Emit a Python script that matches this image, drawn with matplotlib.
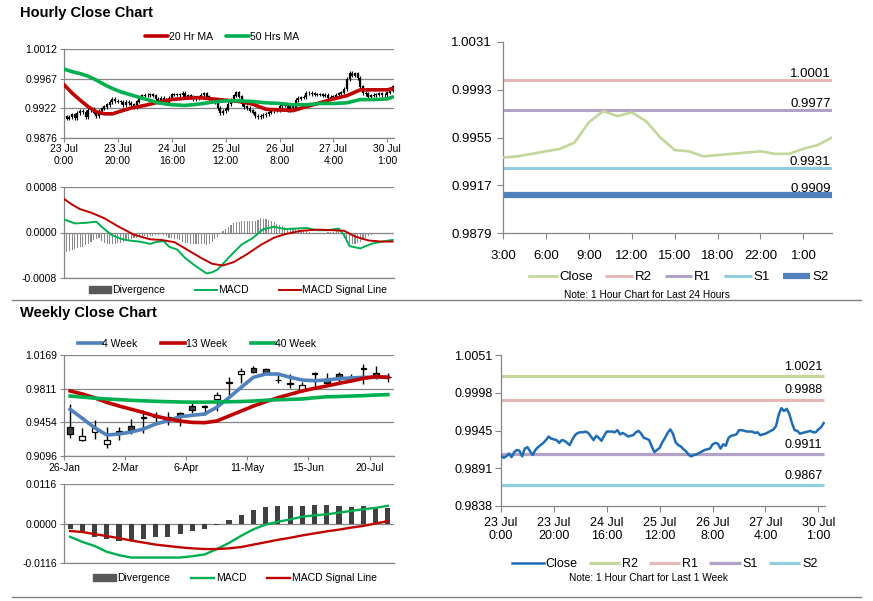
import numpy as np
import matplotlib
matplotlib.use('Agg')
import matplotlib.pyplot as plt
from matplotlib.lines import Line2D
from matplotlib.patches import Patch, Rectangle

plt.rcParams['font.family'] = ['Liberation Sans', 'DejaVu Sans']

# ---------------- DATA ----------------
hourly_close = [
    0.9909, 0.9906, 0.9908, 0.9912, 0.9907, 0.9914, 0.9917, 0.9916, 0.9908, 0.9919,
    0.9921, 0.9915, 0.9910, 0.9917, 0.9921, 0.9924, 0.9927, 0.9931, 0.9936, 0.9933,
    0.9932, 0.9931, 0.9927, 0.9931, 0.9930, 0.9927, 0.9924, 0.9932, 0.9938, 0.9941,
    0.9942, 0.9942, 0.9943, 0.9941, 0.9936, 0.9931, 0.9937, 0.9934, 0.9930, 0.9937,
    0.9943, 0.9943, 0.9943, 0.9942, 0.9945, 0.9939, 0.9941, 0.9939, 0.9936, 0.9937,
    0.9938, 0.9942, 0.9944, 0.9940, 0.9934, 0.9933, 0.9931, 0.9922, 0.9914, 0.9917,
    0.9920, 0.9928, 0.9934, 0.9941, 0.9946, 0.9940, 0.9928, 0.9924, 0.9922, 0.9918,
    0.9915, 0.9910, 0.9908, 0.9910, 0.9911, 0.9913, 0.9915, 0.9917, 0.9918, 0.9919,
    0.9925, 0.9927, 0.9926, 0.9919, 0.9925, 0.9923, 0.9934, 0.9937, 0.9938, 0.9939,
    0.9945, 0.9945, 0.9944, 0.9943, 0.9943, 0.9943, 0.9941, 0.9942, 0.9938, 0.9939,
    0.9940, 0.9942, 0.9944, 0.9946, 0.9951, 0.9967, 0.9976, 0.9972, 0.9975, 0.9968,
    0.9955, 0.9945, 0.9944, 0.9940, 0.9941, 0.9942, 0.9943, 0.9944, 0.9942, 0.9942,
    0.9946, 0.9949, 0.9955]

hour_tick_pos = [0, 20, 40, 60, 80, 100, 120]
hour_tick_labels = ['23 Jul\n0:00', '23 Jul\n20:00', '24 Jul\n16:00', '25 Jul\n12:00',
                    '26 Jul\n8:00', '27 Jul\n4:00', '30 Jul\n1:00']

ma_hours = [0, 3, 6, 9, 12, 15, 18, 21, 25, 30, 35, 40, 45, 50, 55, 60, 65, 70, 75,
            80, 85, 90, 95, 100, 105, 110, 115, 120, 122]
ma20 = [0.9958, 0.9945, 0.9934, 0.9924, 0.9916, 0.9913, 0.9913, 0.9917, 0.9922, 0.9926,
        0.9931, 0.9935, 0.9937, 0.9938, 0.9936, 0.9934, 0.9932, 0.9928, 0.9920, 0.9919,
        0.9918, 0.9924, 0.9930, 0.9936, 0.9941, 0.9950, 0.9950, 0.9950, 0.9952]
ma50 = [0.9982, 0.9978, 0.9975, 0.9971, 0.9965, 0.9958, 0.9952, 0.9947, 0.9942, 0.9936,
        0.9930, 0.9927, 0.9926, 0.9928, 0.9931, 0.9933, 0.9933, 0.9932, 0.9930, 0.9929,
        0.9927, 0.9927, 0.9929, 0.9929, 0.9930, 0.9935, 0.9935, 0.9936, 0.9939]

macd_hours = [0, 4, 8, 12, 14, 16, 18, 21, 24, 28, 32, 34, 37, 39, 42, 45, 48, 51, 53,
              55, 57, 60, 63, 66, 70, 74, 78, 82, 86, 90, 94, 98, 102, 104, 106, 110,
              114, 118, 122]
macd_h = [0.00023, 0.00016, 0.00017, 0.00019, 0.00010, 0.00002, -0.00005, -0.00011,
          -0.00014, -0.00016, -0.00020, -0.00017, -0.00015, -0.00025, -0.00030, -0.00045,
          -0.00056, -0.00066, -0.00072, -0.00070, -0.00065, -0.00050, -0.00035, -0.00021,
          -0.00010, 0.00006, 0.00010, 0.00006, 0.00007, 0.00008, 0.00004, 0.00004,
          0.00007, -0.00005, -0.00024, -0.00028, -0.00020, -0.00016, -0.00013]
signal_hours = [0, 3, 6, 10, 15, 20, 26, 32, 36, 41, 46, 51, 55, 59, 63, 68, 73, 78,
                82, 88, 94, 100, 104, 108, 113, 118, 122]
signal_h = [0.00059, 0.00049, 0.00041, 0.00035, 0.00025, 0.00011, -0.00004, -0.00012,
            -0.00013, -0.00017, -0.00031, -0.00045, -0.00055, -0.00058, -0.00052,
            -0.00038, -0.00022, -0.00009, -0.00003, 0.00003, 0.00005, 0.00004, 0.00003,
            -0.00007, -0.00014, -0.00016, -0.00016]
div_h = [-0.00036, -0.00035, -0.00033, -0.00031, -0.00029, -0.00028, -0.00026, -0.00025,
         -0.00022, -0.00020, -0.00017, -0.00014, -0.00011,
         -0.00010, -0.00015, -0.00019, -0.00020, -0.00021,
         -0.00021, -0.00020, -0.00019, -0.00018, -0.00017, -0.00015, -0.00013, -0.00011,
         -0.00010, -0.00009, -0.00008, -0.00007, -0.00007, -0.00008, -0.00007, -0.00007,
         -0.00005, -0.00004,
         -0.00003, -0.00005, -0.00007,
         -0.00009, -0.00010, -0.00011, -0.00012, -0.00014, -0.00016,
         -0.00018, -0.00019, -0.00020, -0.00020, -0.00021, -0.00020, -0.00020, -0.00021,
         -0.00022, -0.00020, -0.00016, -0.00012, -0.00008, -0.00003,
         0.00003, 0.00006, 0.00010, 0.00014,
         0.00017, 0.00018, 0.00019, 0.00020, 0.00021, 0.00021, 0.00020, 0.00020, 0.00020,
         0.00022,
         0.00025, 0.00024, 0.00024, 0.00022, 0.00020, 0.00018,
         0.00015, 0.00013, 0.00011, 0.00009, 0.00008, 0.00007,
         0.00007, 0.00006, 0.00006, 0.00005, 0.00004, 0.00002,
         0.00001, 0.0, -0.00001, -0.00001, -0.00001, 0.0, 0.0, 0.00001, 0.00001,
         0.00001, 0.00002, 0.00003, 0.00001,
         -0.00010, -0.00016, -0.00020, -0.00021, -0.00020, -0.00019, -0.00017, -0.00014,
         -0.00010, -0.00007, -0.00005, -0.00003, -0.00002, -0.00001, 0.0,
         0.0, -0.00001, -0.00002, -0.00003]

hourly_ticks = [0.98765, 0.99218, 0.99672, 1.00125]
hourly_tick_labels = ['0.9876', '0.9922', '0.9967', '1.0012']
macd_h_ticks = [-0.0008, 0.0, 0.0008]
macd_h_labels = ['-0.0008', '0.0000', '0.0008']

# Last 24 hours chart
day_tick_labels = ['3:00', '6:00', '9:00', '12:00', '15:00', '18:00', '22:00', '1:00']
day_levels = [1.0001, 0.9977, 0.9931, 0.9909]
day_level_names = ['R2', 'R1', 'S1', 'S2']
day_level_labels = ['1.0001', '0.9977', '0.9931', '0.9909']
day_ticks = [0.9879, 0.9917, 0.9955, 0.9993, 1.0031]
day_tick_labels_y = ['0.9879', '0.9917', '0.9955', '0.9993', '1.0031']

# Week chart (hourly)
wk1_levels = [1.0021, 0.9988, 0.9911, 0.9867]
wk1_level_names = ['R2', 'R1', 'S1', 'S2']
wk1_level_labels = ['1.0021', '0.9988', '0.9911', '0.9867']
wk1_ticks = [0.9838, 0.989125, 0.99445, 0.999775, 1.0051]
wk1_tick_labels = ['0.9838', '0.9891', '0.9945', '0.9998', '1.0051']

# Weekly candles
week_labels = ['26-Jan', '2-Mar', '6-Apr', '11-May', '15-Jun', '20-Jul']
week_label_pos = [0, 5, 10, 15, 20, 25]
week_open = [0.9409, 0.9263, 0.9355, 0.9220, 0.9348, 0.9416, 0.9512, 0.9510, 0.9503,
             0.9556, 0.9627, 0.9622, 0.9702, 0.9873, 0.9964, 1.0027, 1.0017, 0.9905,
             0.9870, 0.9797, 0.9976, 0.9910, 0.9964, 0.9934, 1.0029, 0.9981, 0.9930]
week_high = [0.9647, 0.9398, 0.9476, 0.9409, 0.9409, 0.9494, 0.9583, 0.9567, 0.9560,
             0.9567, 0.9673, 0.9638, 0.9779, 0.9939, 1.0027, 1.0052, 1.0034, 0.9957,
             0.9967, 0.9886, 0.9985, 0.9981, 0.9992, 0.9967, 1.0070, 1.0052, 0.9981]
week_low = [0.9291, 0.9256, 0.9281, 0.9185, 0.9266, 0.9327, 0.9345, 0.9461, 0.9425,
            0.9415, 0.9549, 0.9532, 0.9574, 0.9744, 0.9868, 0.9981, 0.9967, 0.9875,
            0.9815, 0.9779, 0.9815, 0.9857, 0.9857, 0.9886, 0.9857, 0.9910, 0.9886]
week_close = [0.9327, 0.9309, 0.9391, 0.9266, 0.9362, 0.9373, 0.9505, 0.9516, 0.9509,
              0.9532, 0.9585, 0.9618, 0.9744, 0.9877, 0.9999, 0.9992, 0.9978, 0.9901,
              0.9866, 0.9850, 0.9972, 0.9868, 0.9910, 0.9930, 1.0025, 0.9946, 0.9934]
wk_ma4 = [0.9592, 0.9496, 0.9397, 0.9319, 0.9330, 0.9351, 0.9383, 0.9436, 0.9471,
          0.9514, 0.9528, 0.9542, 0.9613, 0.9716, 0.9826, 0.9932, 0.9967, 0.9967,
          0.9932, 0.9903, 0.9896, 0.9903, 0.9918, 0.9925, 0.9932, 0.9932, 0.9932]
wk_ma13 = [0.9787, 0.9755, 0.9714, 0.9666, 0.9627, 0.9593, 0.9558, 0.9520, 0.9490,
           0.9467, 0.9453, 0.9450, 0.9468, 0.9521, 0.9574, 0.9627, 0.9673, 0.9716,
           0.9751, 0.9787, 0.9815, 0.9840, 0.9868, 0.9893, 0.9921, 0.9939, 0.9932]
wk_ma40 = [0.9733, 0.9722, 0.9711, 0.9702, 0.9695, 0.9688, 0.9682, 0.9677, 0.9673,
           0.9670, 0.9668, 0.9668, 0.9670, 0.9672, 0.9675, 0.9680, 0.9688, 0.9694,
           0.9698, 0.9702, 0.9715, 0.9725, 0.9728, 0.9733, 0.9737, 0.9744, 0.9748]
wk_ticks = [0.9096, 0.94537, 0.98113, 1.0169]
wk_tick_labels = ['0.9096', '0.9454', '0.9811', '1.0169']

wk_div = [-0.0017, -0.0026, -0.0039, -0.0046, -0.0052, -0.0047, -0.0046, -0.0041, -0.0039,
          -0.0031, -0.0022, -0.0017, -0.0005, 0.0010, 0.0026, 0.0039, 0.0047, 0.0052,
          0.0052, 0.0052, 0.0055, 0.0053, 0.0051, 0.0049, 0.0051, 0.0047, 0.0046]
wk_macd = [-0.0039, -0.0054, -0.0066, -0.0083, -0.0093, -0.0100, -0.0100, -0.0100, -0.0100,
           -0.0100, -0.0096, -0.0091, -0.0075, -0.0057, -0.0036, -0.0017, -0.0003, 0.0005,
           0.0012, 0.0020, 0.0024, 0.0027, 0.0032, 0.0037, 0.0042, 0.0046, 0.0052]
wk_signal = [-0.0022, -0.0025, -0.0031, -0.0037, -0.0043, -0.0050, -0.0056, -0.0062, -0.0066,
             -0.0070, -0.0073, -0.0075, -0.0075, -0.0073, -0.0069, -0.0062, -0.0055, -0.0048,
             -0.0042, -0.0035, -0.0029, -0.0023, -0.0018, -0.0012, -0.0007, 0.0000, 0.0007]
wk_macd_ticks = [-0.0116, 0.0, 0.0116]
wk_macd_labels = ['-0.0116', '0.0000', '0.0116']

# ---------------- STYLE ----------------
GRAY = '#868686'
RED = '#c00000'
GREEN = '#00b050'
BLUE = '#4f81bd'
C_OLIVE = '#c3d69b'
C_PINK = '#e6b9b8'
C_LAV = '#b3a2c7'
C_LBLUE = '#93cddd'
C_DBLUE = '#1f6db5'

W, H = 873, 601
fig = plt.figure(figsize=(W / 100, H / 100), dpi=100)


def axrect(l, t, r, b):
    return fig.add_axes([l / W, 1 - b / H, (r - l) / W, (b - t) / H])


def style(ax, grid, size, xtick_len=3, ytick_len=3, ypad=2, xpad=2):
    for s in ['top', 'right']:
        ax.spines[s].set_visible(False)
    for s in ['left', 'bottom']:
        ax.spines[s].set_color(GRAY)
        ax.spines[s].set_linewidth(0.9)
    ax.tick_params(axis='y', colors=GRAY, labelcolor='black', labelsize=size,
                   length=ytick_len, pad=ypad, width=0.8)
    ax.tick_params(axis='x', colors=GRAY, labelcolor='black', labelsize=size,
                   length=xtick_len, pad=xpad, width=0.8)
    if grid:
        ax.yaxis.grid(True, color=GRAY, lw=0.9)
        ax.set_axisbelow(True)


def fpos(x, y):
    return (x / W, 1 - y / H)


# ---- Titles ----
fig.text(20 / W, 1 - 13 / H, 'Hourly Close Chart', fontsize=10.5, fontweight='bold', va='center')
fig.text(20 / W, 1 - 313 / H, 'Weekly Close Chart', fontsize=10.5, fontweight='bold', va='center')

# separators
fig.add_artist(Line2D([12 / W, 861 / W], [1 - 300 / H] * 2, color='#808080', lw=1))
fig.add_artist(Line2D([12 / W, 861 / W], [1 - 597 / H] * 2, color='#808080', lw=1))

# ---- Hourly candle chart ----
hx = np.arange(len(hourly_close))
hc = np.array(hourly_close)
ho = np.r_[hc[0], hc[:-1]]
ax1 = axrect(64, 49.3, 394, 137.5)
style(ax1, True, 7.5)
lo = np.minimum(ho, hc)
hi = np.maximum(ho, hc)
ax1.vlines(hx, lo - 0.00028, hi + 0.00028, color='black', lw=0.8, zorder=2)
ax1.vlines(hx, lo - 0.00004, hi + 0.00004, color='black', lw=1.6, zorder=2)
l20, = ax1.plot(ma_hours, ma20, color=RED, lw=2.6, zorder=3, solid_capstyle='round')
l50, = ax1.plot(ma_hours, ma50, color=GREEN, lw=2.6, zorder=3, solid_capstyle='round')
ax1.set_xlim(0, 122.5)
ax1.set_ylim(hourly_ticks[0], hourly_ticks[-1])
ax1.set_yticks(hourly_ticks)
ax1.set_yticklabels(hourly_tick_labels)
ax1.set_xticks(hour_tick_pos)
ax1.set_xticklabels(hour_tick_labels, linespacing=1.15)
fig.legend(handles=[l20, l50], labels=['20 Hr MA', '50 Hrs MA'], loc='center',
           bbox_to_anchor=fpos(222, 37), ncol=2, frameon=False, fontsize=7.5,
           handlelength=2.2, handletextpad=0.1, columnspacing=1.3, borderpad=0)

# ---- Hourly MACD ----
ax2 = axrect(64, 187, 394, 278)
style(ax2, True, 7.5)
ax2.tick_params(axis='x', length=0)
ax2.set_xticks([])
bdiv = ax2.bar(hx, div_h, width=0.42, color='#8a8a8a', lw=0, zorder=2)
lm, = ax2.plot(macd_hours, macd_h, color=GREEN, lw=1.4, zorder=3)
ls, = ax2.plot(signal_hours, signal_h, color=RED, lw=1.4, zorder=3)
ax2.set_xlim(0, 122.5)
ax2.set_ylim(-0.0008, 0.0008)
ax2.set_yticks(macd_h_ticks)
ax2.set_yticklabels(macd_h_labels)
fig.legend(handles=[Patch(color='#595959'), lm, ls],
           labels=['Divergence', 'MACD', 'MACD Signal Line'], loc='center',
           bbox_to_anchor=fpos(238, 290), ncol=3, frameon=False, fontsize=7.5,
           handlelength=2.1, handleheight=0.6, handletextpad=0.1, columnspacing=2.9,
           borderpad=0)

# ---- Last 24 hours chart ----
dc = hourly_close[-24:]
dx = np.arange(len(dc))
ax3 = axrect(503, 42, 832, 233)
style(ax3, False, 9.5, xtick_len=4, ytick_len=4, ypad=4, xpad=8)
lw_lv = [2.2, 2.2, 2.2, 4.5]
col_lv = [C_PINK, C_LAV, C_LBLUE, BLUE]
handles3 = []
lc, = ax3.plot(dx, dc, color=C_OLIVE, lw=1.9, zorder=3)
handles3.append(lc)
for lev, c, lw, lab in zip(day_levels, col_lv, lw_lv, day_level_labels):
    h, = ax3.plot([dx[0], dx[-1]], [lev, lev], color=c, lw=lw, zorder=2, solid_capstyle='butt')
    handles3.append(h)
    ax3.annotate(lab, xy=(dx[-1], lev), xytext=(-1, 2.2 if lw < 3 else 2.5),
                 textcoords='offset points', ha='right', va='baseline', fontsize=9.5)
ax3.set_xlim(0, 23)
ax3.set_ylim(day_ticks[0], day_ticks[-1])
ax3.set_yticks(day_ticks)
ax3.set_yticklabels(day_tick_labels_y)
ax3.set_xticks(np.arange(0, 24, 3))
ax3.set_xticklabels(day_tick_labels)
fig.legend(handles=handles3, labels=['Close'] + day_level_names, loc='center',
           bbox_to_anchor=fpos(679, 277), ncol=5, frameon=False, fontsize=9.5,
           handlelength=2.1, handletextpad=0.15, columnspacing=0.95, borderpad=0)
fig.text(647 / W, 1 - 295 / H, 'Note: 1 Hour Chart for Last 24 Hours', fontsize=7.3,
         ha='center', va='center')

# ---- Weekly candle chart ----
wx = np.arange(len(week_close))
ax4 = axrect(64, 355, 394, 456)
style(ax4, True, 7.5)
ax4.vlines(wx, week_low, week_high, color='black', lw=1.0, zorder=2)
for x, o, c in zip(wx, week_open, week_close):
    face = 'white' if c > o else '#404040'
    ax4.add_patch(Rectangle((x - 0.24, min(o, c)), 0.48, max(abs(c - o), 0.0004),
                            facecolor=face, edgecolor='black', lw=0.9, zorder=3))
w4, = ax4.plot(wx, wk_ma4, color=BLUE, lw=2.6, zorder=4)
w13, = ax4.plot(wx, wk_ma13, color=RED, lw=2.6, zorder=4)
w40, = ax4.plot(wx, wk_ma40, color=GREEN, lw=2.6, zorder=4)
ax4.set_xlim(-0.5, 26.5)
ax4.set_ylim(wk_ticks[0], wk_ticks[-1])
ax4.set_yticks(wk_ticks)
ax4.set_yticklabels(wk_tick_labels)
ax4.set_xticks(np.array(week_label_pos) - 0.5)
ax4.set_xticklabels(week_labels)
fig.legend(handles=[w4, w13, w40], labels=['4 Week', '13 Week', '40 Week'], loc='center',
           bbox_to_anchor=fpos(197, 344), ncol=3, frameon=False, fontsize=7.5,
           handlelength=2.3, handletextpad=0.05, columnspacing=2.3, borderpad=0)

# ---- Weekly MACD ----
ax5 = axrect(64, 484, 394, 563)
style(ax5, True, 7.5)
ax5.set_xticks([])
ax5.bar(wx, wk_div, width=0.42, color='#404040', lw=0, zorder=2)
wm, = ax5.plot(wx, wk_macd, color=GREEN, lw=1.7, zorder=3)
wsg, = ax5.plot(wx, wk_signal, color=RED, lw=1.7, zorder=3)
ax5.set_xlim(-0.5, 26.5)
ax5.set_ylim(-0.0116, 0.0116)
ax5.set_yticks(wk_macd_ticks)
ax5.set_yticklabels(wk_macd_labels)
fig.legend(handles=[Patch(color='#595959'), wm, wsg],
           labels=['Divergence', 'MACD', 'MACD Signal Line'], loc='center',
           bbox_to_anchor=fpos(235, 578), ncol=3, frameon=False, fontsize=7.5,
           handlelength=2.2, handleheight=0.6, handletextpad=0.15, columnspacing=2.0,
           borderpad=0)

# ---- Last week (hourly) chart ----
ax6 = axrect(501, 355, 825, 506)
style(ax6, False, 9, xtick_len=4, ytick_len=4, ypad=2, xpad=4)
col6 = [C_OLIVE, C_PINK, C_LAV, C_LBLUE]
handles6 = []
lc6, = ax6.plot(hx, hourly_close, color=C_DBLUE, lw=1.8, zorder=3)
handles6.append(lc6)
for lev, c, lab in zip(wk1_levels, col6, wk1_level_labels):
    h, = ax6.plot([hx[0], hx[-1]], [lev, lev], color=c, lw=2.3, zorder=2, solid_capstyle='butt')
    handles6.append(h)
    ax6.annotate(lab, xy=(hx[-1], lev), xytext=(-1, 4.5), textcoords='offset points',
                 ha='right', va='baseline', fontsize=9)
ax6.set_xlim(0, 122.5)
ax6.set_ylim(wk1_ticks[0], wk1_ticks[-1])
ax6.set_yticks(wk1_ticks)
ax6.set_yticklabels(wk1_tick_labels)
ax6.set_xticks(hour_tick_pos)
ax6.set_xticklabels(hour_tick_labels, linespacing=1.05)
fig.legend(handles=handles6, labels=['Close'] + wk1_level_names, loc='center',
           bbox_to_anchor=fpos(665, 564), ncol=5, frameon=False, fontsize=9,
           handlelength=2.5, handletextpad=0.15, columnspacing=0.9, borderpad=0)
fig.text(648 / W, 1 - 578 / H, 'Note: 1 Hour Chart for Last 1 Week', fontsize=7.3,
         ha='center', va='center')

fig.savefig('out.png', dpi=100)
